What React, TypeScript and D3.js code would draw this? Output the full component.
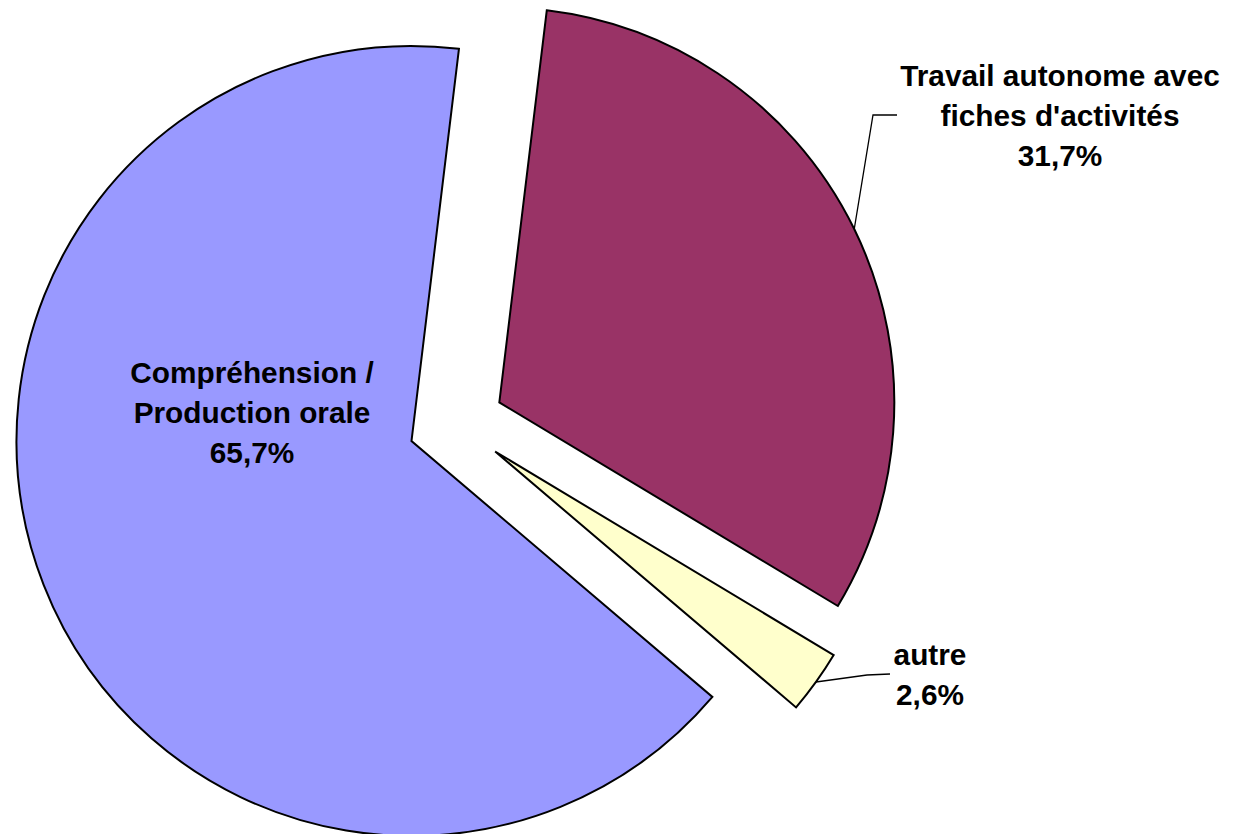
import React from "react";
import * as d3 from "d3";

const categories = ["Travail autonome avec fiches d'activités", "autre", "Compréhension / Production orale"];
const values = [31.7, 2.6, 65.7];
const colors = ["#993366", "#FFFFCC", "#9999FF"];
const nameLines = [["Travail autonome avec", "fiches d'activités"], ["autre"], ["Compréhension /", "Production orale"]];

const W = 1236;
const H = 834;
const CX = 456.2;
const CY = 423.5;
const R = 395;
const EXPLODE = 48;
const START_DEG = 6.9;

const labelAnchor = [
  { x: 1060, y: 86 },
  { x: 930, y: 665 },
  { x: 252, y: 383 },
];
const LINE_H = 40;

const fmt = (v: number) => d3.format(".1f")(v).replace(".", ",") + "%";

export default function App() {
  const pie = d3
    .pie<number>()
    .sort(null)
    .value((d) => d)
    .startAngle((START_DEG * Math.PI) / 180)
    .endAngle((START_DEG * Math.PI) / 180 + 2 * Math.PI);
  const arcs = pie(values);
  const arc = d3.arc<d3.PieArcDatum<number>>().innerRadius(0).outerRadius(R);

  const offsets = arcs.map((a) => {
    const m = (a.startAngle + a.endAngle) / 2;
    return { dx: EXPLODE * Math.sin(m), dy: -EXPLODE * Math.cos(m), m };
  });

  const edgePoint = (i: number) => {
    const o = offsets[i];
    return {
      x: CX + o.dx + R * Math.sin(o.m),
      y: CY + o.dy - R * Math.cos(o.m),
    };
  };

  const p0 = edgePoint(0);
  const p1 = edgePoint(1);
  const leaders = [
    [
      [p0.x, p0.y],
      [873, 115],
      [897, 115],
    ],
    [
      [p1.x, p1.y],
      [867, 675],
      [890, 674],
    ],
  ];
  const line = d3.line();

  return (
    <svg
      width={W}
      height={H}
      style={{ position: "absolute", left: 0, top: 0, background: "#fff" }}
      fontFamily="'Liberation Sans', Arial, sans-serif"
    >
      <rect x={0} y={0} width={W} height={H} fill="#fff" />
      {arcs.map((a, i) => (
        <path
          key={categories[i]}
          d={arc(a) || ""}
          transform={`translate(${CX + offsets[i].dx},${CY + offsets[i].dy})`}
          fill={colors[i]}
          stroke="#000"
          strokeWidth={2}
          strokeLinejoin="miter"
        />
      ))}
      {leaders.map((pts, i) => (
        <path key={i} d={line(pts as [number, number][]) || ""} fill="none" stroke="#000" strokeWidth={1.3} />
      ))}
      {values.map((v, i) => {
        const lines = [...nameLines[i], fmt(v)];
        return (
          <text
            key={i}
            x={labelAnchor[i].x}
            y={labelAnchor[i].y}
            textAnchor="middle"
            fontSize={29.8}
            fontWeight="bold"
            fill="#000"
          >
            {lines.map((l, j) => (
              <tspan key={j} x={labelAnchor[i].x} y={labelAnchor[i].y + j * LINE_H}>
                {l}
              </tspan>
            ))}
          </text>
        );
      })}
    </svg>
  );
}
